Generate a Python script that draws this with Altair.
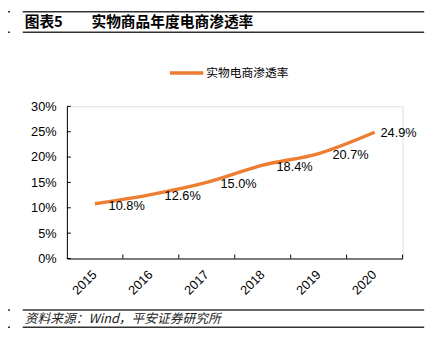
import altair as alt
import pandas as pd

years = ["2015", "2016", "2017", "2018", "2019", "2020"]
rates = [0.108, 0.126, 0.150, 0.184, 0.207, 0.249]
y_ticks = [0, 0.05, 0.10, 0.15, 0.20, 0.25, 0.30]
series_name = "实物电商渗透率"
title_no = "图表5"
title_text = "实物商品年度电商渗透率"
source_text = "资料来源：Wind，平安证券研究所"

df = pd.DataFrame({"year": years, "rate": rates, "series": [series_name] * len(years)})
df_last = df.iloc[[-1]]
df_rest = df.iloc[:-1]
df_ticks = pd.DataFrame({"rate": y_ticks})
one = pd.DataFrame({"k": [0]})

W, H = 342, 155
FONT = "Liberation Sans, Arial, Noto Sans CJK SC"
CJK = "Noto Sans CJK SC, Liberation Sans"
ORANGE = "#ED7D31"
LINE_C = "#333333"

xaxis = alt.Axis(title=None, labelAngle=-45, labelAlign="right",
                 labelBaseline="middle", labelPadding=14, ticks=False,
                 domainColor="black", domainWidth=1, labelFont=FONT,
                 labelFontSize=13, labelColor="black", labelOverlap=False)
yaxis = alt.Axis(title=None, values=y_ticks, format=".0%", grid=False,
                 ticks=False, domainColor="black", domainWidth=1,
                 labelPadding=11, labelFont=FONT, labelFontSize=13,
                 labelColor="black", labelOverlap=False)
yscale = alt.Scale(domain=[0, 0.30], nice=False, zero=True)

X = alt.X("year:N", sort=years, axis=xaxis)
Y = alt.Y("rate:Q", scale=yscale, axis=yaxis)

line = alt.Chart(df).mark_line(color=ORANGE, strokeWidth=3.5, interpolate="monotone").encode(
    x=X, y=Y)

labels = alt.Chart(df_rest).mark_text(align="left", baseline="middle", dx=14, dy=2,
                                      font=FONT, fontSize=13, color="black").encode(
    x=X, y=Y, text=alt.Text("rate:Q", format=".1%"))

label_last = alt.Chart(df_last).mark_text(align="left", baseline="middle", dx=6, dy=1,
                                          font=FONT, fontSize=13, color="black").encode(
    x=X, y=Y, text=alt.Text("rate:Q", format=".1%"))

xticks = alt.Chart(df).mark_rule(color="black", strokeWidth=1, xOffset=28.5).encode(
    x=X, y=alt.value(H - 4), y2=alt.value(H))

yticks = alt.Chart(df_ticks).mark_rule(color="black", strokeWidth=1).encode(
    y=Y, x=alt.value(0), x2=alt.value(4))

def hline(y, x1, x2, w=1.5):
    return alt.Chart(one).mark_rule(color=LINE_C, strokeWidth=w).encode(
        x=alt.value(x1), x2=alt.value(x2), y=alt.value(y))

def txt(s, x, y, size, weight="normal", style="normal", font=CJK, color="black"):
    return alt.Chart(one).mark_text(align="left", baseline="middle", fontSize=size,
                                    fontWeight=weight, fontStyle=style, font=font,
                                    color=color).encode(
        x=alt.value(x), y=alt.value(y), text=alt.value(s))

legend_line = alt.Chart(one).mark_rule(color=ORANGE, strokeWidth=3.5).encode(
    x=alt.value(105), x2=alt.value(139), y=alt.value(-34))

deco = [
    hline(-96.5, -45, 364), hline(-96.5, -60, -58),
    hline(-75.5, -45, 364), hline(-75.5, -60, -58),
    hline(207.5, -45, 364), hline(207.5, -60, -58),
    hline(225, -45, 364), hline(225, -60, -58),
    txt(title_no, -43, -86, 15, weight="bold"),
    txt(title_text, 25, -86, 15, weight="bold"),
    legend_line,
    txt(series_name, 142, -34, 12),
    txt(source_text, -43, 216.5, 13, style="italic", color="#222222"),
]

chart = alt.layer(line, labels, label_last, xticks, yticks, *deco).properties(
    width=W, height=H,
    autosize=alt.AutoSizeParams(type="none"),
    padding={"left": 60, "top": 97, "right": 32, "bottom": 90},
).configure_view(stroke=None).configure(background="white")

chart.save("out.html", embed_options={"renderer": "svg", "actions": False})
